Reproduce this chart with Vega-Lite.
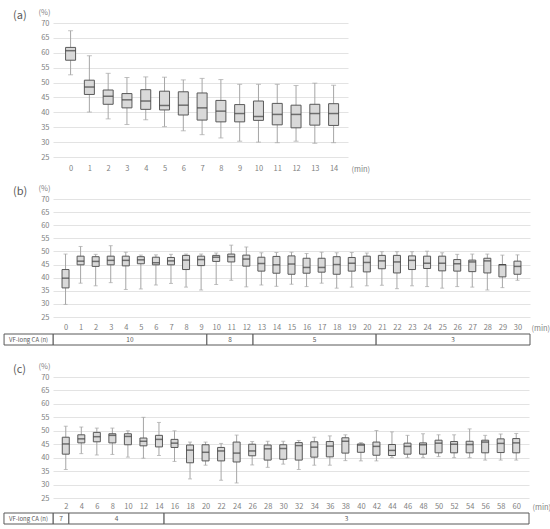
{
  "$schema": "https://vega.github.io/schema/vega-lite/v6.json",
  "padding": {"left": 3, "top": 8, "right": 3, "bottom": 3},
  "bounds": "flush",
  "spacing": 0,
  "config": {
    "font": "Noto Sans CJK JP",
    "view": {"stroke": null},
    "axisX": {"domain": false, "ticks": false, "tickSize": 0, "grid": false, "labelFontSize": 7.5, "labelColor": "#7f7f7f", "titleFontSize": 7.5, "titleFontWeight": "normal", "titleColor": "#7f7f7f", "titleAlign": "left", "titleBaseline": "middle", "labelFlush": false, "labelOverlap": false},
    "axisY": {"domain": false, "ticks": false, "tickSize": 0, "grid": true, "gridColor": "#e3e3e3", "gridWidth": 1, "labelFontSize": 7.5, "labelColor": "#7f7f7f", "labelPadding": 4, "labelOverlap": false, "tickCount": 20, "titleFontSize": 7.5, "titleFontWeight": "normal", "titleColor": "#7f7f7f", "titleAngle": 0, "titleX": -9, "titleY": -11, "titleAlign": "center", "titleBaseline": "middle"},
    "title": {"anchor": "start", "frame": "group", "dx": -40, "fontSize": 11, "fontWeight": "normal", "color": "#595959", "offset": -13}
  },
  "datasets": {
    "a": [
      {"t": 0, "lo": 52.6, "q1": 57.5, "med": 60.7, "q3": 61.8, "hi": 67.4},
      {"t": 1, "lo": 40.1, "q1": 46.0, "med": 48.5, "q3": 50.8, "hi": 59.0},
      {"t": 2, "lo": 37.8, "q1": 42.7, "med": 45.4, "q3": 47.5, "hi": 53.1},
      {"t": 3, "lo": 35.9, "q1": 41.5, "med": 44.2, "q3": 46.3, "hi": 51.7},
      {"t": 4, "lo": 37.5, "q1": 41.0, "med": 43.8, "q3": 47.6, "hi": 51.9},
      {"t": 5, "lo": 35.2, "q1": 40.8, "med": 42.3, "q3": 47.1, "hi": 51.8},
      {"t": 6, "lo": 33.8, "q1": 39.1, "med": 42.4, "q3": 46.9, "hi": 50.9},
      {"t": 7, "lo": 32.5, "q1": 37.4, "med": 41.5, "q3": 46.5, "hi": 51.4},
      {"t": 8, "lo": 31.4, "q1": 36.8, "med": 40.4, "q3": 44.0, "hi": 51.0},
      {"t": 9, "lo": 30.3, "q1": 36.8, "med": 39.6, "q3": 42.6, "hi": 49.4},
      {"t": 10, "lo": 30.0, "q1": 37.3, "med": 38.6, "q3": 43.8, "hi": 49.4},
      {"t": 11, "lo": 29.8, "q1": 35.8, "med": 39.3, "q3": 43.0, "hi": 49.4},
      {"t": 12, "lo": 30.3, "q1": 34.8, "med": 39.3, "q3": 42.4, "hi": 49.0},
      {"t": 13, "lo": 29.6, "q1": 35.7, "med": 39.6, "q3": 42.7, "hi": 49.8},
      {"t": 14, "lo": 29.8, "q1": 35.6, "med": 39.6, "q3": 42.9, "hi": 49.1}
    ],
    "b": [
      {"t": 0, "lo": 29.8, "q1": 36.1, "med": 39.8, "q3": 43.1, "hi": 49.0},
      {"t": 1, "lo": 37.9, "q1": 44.9, "med": 46.3, "q3": 48.2, "hi": 51.9},
      {"t": 2, "lo": 36.9, "q1": 44.3, "med": 46.2, "q3": 48.0, "hi": 48.9},
      {"t": 3, "lo": 38.1, "q1": 44.9, "med": 46.6, "q3": 48.2, "hi": 52.2},
      {"t": 4, "lo": 35.5, "q1": 44.5, "med": 46.6, "q3": 48.2, "hi": 49.7},
      {"t": 5, "lo": 35.7, "q1": 45.3, "med": 46.8, "q3": 48.0, "hi": 48.6},
      {"t": 6, "lo": 37.2, "q1": 44.9, "med": 45.7, "q3": 47.8, "hi": 48.7},
      {"t": 7, "lo": 37.8, "q1": 44.9, "med": 46.4, "q3": 47.7, "hi": 48.9},
      {"t": 8, "lo": 36.4, "q1": 43.1, "med": 46.7, "q3": 48.5, "hi": 49.0},
      {"t": 9, "lo": 35.3, "q1": 44.6, "med": 46.9, "q3": 48.2, "hi": 49.0},
      {"t": 10, "lo": 37.4, "q1": 46.2, "med": 47.8, "q3": 48.5, "hi": 49.4},
      {"t": 11, "lo": 39.0, "q1": 46.0, "med": 48.0, "q3": 49.0, "hi": 52.4},
      {"t": 12, "lo": 36.5, "q1": 44.4, "med": 47.1, "q3": 48.6, "hi": 51.7},
      {"t": 13, "lo": 37.2, "q1": 42.5, "med": 45.4, "q3": 47.8, "hi": 49.5},
      {"t": 14, "lo": 36.7, "q1": 41.7, "med": 44.9, "q3": 48.1, "hi": 49.6},
      {"t": 15, "lo": 37.5, "q1": 41.3, "med": 45.2, "q3": 48.3, "hi": 49.7},
      {"t": 16, "lo": 36.6, "q1": 41.7, "med": 43.9, "q3": 47.4, "hi": 49.2},
      {"t": 17, "lo": 37.9, "q1": 42.1, "med": 43.9, "q3": 47.4, "hi": 49.7},
      {"t": 18, "lo": 36.0, "q1": 41.3, "med": 45.0, "q3": 48.0, "hi": 49.5},
      {"t": 19, "lo": 36.4, "q1": 42.5, "med": 45.5, "q3": 47.7, "hi": 49.6},
      {"t": 20, "lo": 36.9, "q1": 42.2, "med": 45.8, "q3": 48.2, "hi": 49.4},
      {"t": 21, "lo": 37.1, "q1": 43.4, "med": 46.4, "q3": 48.5, "hi": 49.9},
      {"t": 22, "lo": 35.8, "q1": 41.8, "med": 46.0, "q3": 48.5, "hi": 49.9},
      {"t": 23, "lo": 36.9, "q1": 43.1, "med": 46.6, "q3": 48.3, "hi": 49.9},
      {"t": 24, "lo": 36.6, "q1": 43.5, "med": 45.5, "q3": 48.2, "hi": 50.1},
      {"t": 25, "lo": 36.0, "q1": 42.6, "med": 45.5, "q3": 48.2, "hi": 49.5},
      {"t": 26, "lo": 36.6, "q1": 42.5, "med": 45.3, "q3": 46.9, "hi": 48.9},
      {"t": 27, "lo": 36.4, "q1": 42.3, "med": 46.0, "q3": 46.7, "hi": 49.0},
      {"t": 28, "lo": 35.3, "q1": 41.8, "med": 46.4, "q3": 47.4, "hi": 49.0},
      {"t": 29, "lo": 36.2, "q1": 40.3, "med": 44.9, "q3": 45.0, "hi": 48.6},
      {"t": 30, "lo": 39.0, "q1": 41.3, "med": 44.3, "q3": 46.3, "hi": 48.7}
    ],
    "c": [
      {"t": 2, "lo": 35.6, "q1": 41.3, "med": 45.1, "q3": 47.6, "hi": 51.7},
      {"t": 4, "lo": 41.5, "q1": 45.5, "med": 47.0, "q3": 48.5, "hi": 51.4},
      {"t": 6, "lo": 41.0, "q1": 45.9, "med": 47.8, "q3": 49.4, "hi": 51.0},
      {"t": 8, "lo": 41.2, "q1": 45.5, "med": 48.3, "q3": 48.9, "hi": 51.0},
      {"t": 10, "lo": 40.2, "q1": 44.8, "med": 47.9, "q3": 48.9, "hi": 50.0},
      {"t": 12, "lo": 39.8, "q1": 44.4, "med": 46.1, "q3": 47.3, "hi": 55.0},
      {"t": 14, "lo": 40.8, "q1": 44.0, "med": 46.8, "q3": 48.3, "hi": 53.1},
      {"t": 16, "lo": 38.6, "q1": 43.8, "med": 45.4, "q3": 46.8, "hi": 50.0},
      {"t": 18, "lo": 32.1, "q1": 38.1, "med": 42.8, "q3": 44.7, "hi": 45.8},
      {"t": 20, "lo": 37.2, "q1": 38.8, "med": 42.0, "q3": 44.8, "hi": 45.8},
      {"t": 22, "lo": 31.6, "q1": 38.8, "med": 42.5, "q3": 43.8, "hi": 45.3},
      {"t": 24, "lo": 30.6, "q1": 38.4, "med": 41.7, "q3": 45.8, "hi": 48.4},
      {"t": 26, "lo": 37.3, "q1": 40.7, "med": 42.5, "q3": 45.0, "hi": 46.0},
      {"t": 28, "lo": 36.4, "q1": 39.1, "med": 43.3, "q3": 44.7, "hi": 46.1},
      {"t": 30, "lo": 37.6, "q1": 39.4, "med": 43.4, "q3": 44.8, "hi": 46.1},
      {"t": 32, "lo": 35.6, "q1": 39.1, "med": 44.5, "q3": 45.6, "hi": 46.4},
      {"t": 34, "lo": 37.2, "q1": 40.2, "med": 43.9, "q3": 45.9, "hi": 47.6},
      {"t": 36, "lo": 37.2, "q1": 40.3, "med": 44.3, "q3": 46.0, "hi": 48.1},
      {"t": 38, "lo": 38.9, "q1": 41.7, "med": 46.1, "q3": 47.4, "hi": 48.5},
      {"t": 40, "lo": 38.8, "q1": 42.0, "med": 44.7, "q3": 45.1, "hi": 45.6},
      {"t": 42, "lo": 38.8, "q1": 40.9, "med": 44.2, "q3": 45.8, "hi": 50.1},
      {"t": 44, "lo": 40.0, "q1": 40.8, "med": 42.7, "q3": 44.9, "hi": 49.6},
      {"t": 46, "lo": 40.0, "q1": 41.3, "med": 44.2, "q3": 45.4, "hi": 48.3},
      {"t": 48, "lo": 40.0, "q1": 41.3, "med": 44.8, "q3": 45.5, "hi": 48.9},
      {"t": 50, "lo": 40.4, "q1": 41.8, "med": 45.4, "q3": 46.5, "hi": 48.5},
      {"t": 52, "lo": 40.0, "q1": 41.8, "med": 45.0, "q3": 46.0, "hi": 48.5},
      {"t": 54, "lo": 40.0, "q1": 41.8, "med": 44.9, "q3": 46.1, "hi": 50.7},
      {"t": 56, "lo": 39.1, "q1": 41.8, "med": 45.8, "q3": 46.5, "hi": 48.3},
      {"t": 58, "lo": 39.1, "q1": 41.9, "med": 45.3, "q3": 47.0, "hi": 48.8},
      {"t": 60, "lo": 39.1, "q1": 41.8, "med": 45.5, "q3": 47.1, "hi": 49.0}
    ],
    "tb": [
      {"start": -0.5, "end": 9.5, "n": 10},
      {"start": 9.5, "end": 12.5, "n": 8},
      {"start": 12.5, "end": 20.5, "n": 5},
      {"start": 20.5, "end": 30.5, "n": 3}
    ],
    "tc": [
      {"start": 1, "end": 3, "n": 7},
      {"start": 3, "end": 15, "n": 4},
      {"start": 15, "end": 61, "n": 3}
    ]
  },
  "vconcat": [
    {
      "width": 295, "height": 134,
      "title": {"text": "(a)"},
      "data": {"name": "a"},
      "encoding": {
        "x": {"field": "t", "type": "quantitative", "scale": {"domain": [-0.67, 14.5], "nice": false, "zero": false},
          "axis": {"values": [0,1,2,3,4,5,6,7,8,9,10,11,12,13,14], "title": "(min)", "labelPadding": 7, "titleX": 298, "titleY": 12}}
      },
      "layer": [
        {"mark": {"type": "rule", "color": "#a6a6a6", "strokeWidth": 1}, "encoding": {"y": {"field": "lo", "type": "quantitative", "title": "(%)", "scale": {"domain": [25, 70], "nice": false, "zero": false}, "axis": {"values": [25, 30, 35, 40, 45, 50, 55, 60, 65, 70], "tickCount": 20}}, "y2": {"field": "hi"}}},
        {"mark": {"type": "tick", "orient": "horizontal", "size": 5, "thickness": 1, "color": "#a6a6a6"}, "encoding": {"y": {"field": "lo", "type": "quantitative", "title": "(%)"}}},
        {"mark": {"type": "tick", "orient": "horizontal", "size": 5, "thickness": 1, "color": "#a6a6a6"}, "encoding": {"y": {"field": "hi", "type": "quantitative", "title": "(%)"}}},
        {"mark": {"type": "bar", "size": 10, "fill": "#d9d9d9", "stroke": "#595959", "strokeWidth": 1}, "encoding": {"y": {"field": "q1", "type": "quantitative", "title": "(%)"}, "y2": {"field": "q3"}}},
        {"mark": {"type": "tick", "orient": "horizontal", "size": 10, "thickness": 1.5, "color": "#404040"}, "encoding": {"y": {"field": "med", "type": "quantitative", "title": "(%)"}}}
      ]
    },
    {"width": 10, "height": 42, "data": {"values": []}, "mark": "point"},
    {
      "width": 477, "height": 118,
      "title": {"text": "(b)"},
      "data": {"name": "b"},
      "encoding": {
        "x": {"field": "t", "type": "quantitative", "scale": {"domain": [-0.5, 30.5], "nice": false, "zero": false},
          "axis": {"values": [0,1,2,3,4,5,6,7,8,9,10,11,12,13,14,15,16,17,18,19,20,21,22,23,24,25,26,27,28,29,30], "title": "(min)", "labelPadding": 6, "titleX": 478, "titleY": 11}}
      },
      "layer": [
        {"mark": {"type": "rule", "color": "#a6a6a6", "strokeWidth": 1}, "encoding": {"y": {"field": "lo", "type": "quantitative", "title": "(%)", "scale": {"domain": [25, 70], "nice": false, "zero": false}, "axis": {"values": [25, 30, 35, 40, 45, 50, 55, 60, 65, 70], "tickCount": 20}}, "y2": {"field": "hi"}}},
        {"mark": {"type": "tick", "orient": "horizontal", "size": 4, "thickness": 1, "color": "#a6a6a6"}, "encoding": {"y": {"field": "lo", "type": "quantitative", "title": "(%)"}}},
        {"mark": {"type": "tick", "orient": "horizontal", "size": 4, "thickness": 1, "color": "#a6a6a6"}, "encoding": {"y": {"field": "hi", "type": "quantitative", "title": "(%)"}}},
        {"mark": {"type": "bar", "size": 7, "fill": "#d9d9d9", "stroke": "#595959", "strokeWidth": 1}, "encoding": {"y": {"field": "q1", "type": "quantitative", "title": "(%)"}, "y2": {"field": "q3"}}},
        {"mark": {"type": "tick", "orient": "horizontal", "size": 7, "thickness": 1.5, "color": "#404040"}, "encoding": {"y": {"field": "med", "type": "quantitative", "title": "(%)"}}}
      ]
    },
    {"width": 10, "height": 17, "data": {"values": []}, "mark": "point"},
    {
      "width": 477, "height": 11,
      "layer": [
        {
          "data": {"name": "tb"},
          "transform": [{"calculate": "(datum.start + datum.end) / 2", "as": "mid"}],
          "layer": [
            {"mark": {"type": "rect", "fill": "white", "stroke": "#595959", "strokeWidth": 1}, "encoding": {"x": {"field": "start", "type": "quantitative", "scale": {"domain": [-0.5, 30.5], "nice": false, "zero": false}, "axis": null}, "x2": {"field": "end"}}},
            {"mark": {"type": "text", "fontSize": 6.5, "color": "#595959"}, "encoding": {"x": {"field": "mid", "type": "quantitative", "scale": {"domain": [-0.5, 30.5], "nice": false, "zero": false}, "axis": null}, "text": {"field": "n", "type": "nominal"}}}
          ]
        },
        {
          "data": {"values": [{"label": "VF-long CA (n)"}]},
          "layer": [
            {"mark": {"type": "rect", "fill": "white", "stroke": "#595959", "strokeWidth": 1}, "encoding": {"x": {"datum": -3.68, "type": "quantitative", "scale": {"domain": [-0.5, 30.5], "nice": false, "zero": false}, "axis": null}, "x2": {"datum": -0.5}}},
            {"mark": {"type": "text", "fontSize": 6, "color": "#595959"}, "encoding": {"x": {"datum": -2.09, "type": "quantitative", "scale": {"domain": [-0.5, 30.5], "nice": false, "zero": false}, "axis": null}, "text": {"field": "label", "type": "nominal"}}}
          ]
        }
      ]
    },
    {"width": 10, "height": 32, "data": {"values": []}, "mark": "point"},
    {
      "width": 476, "height": 121,
      "title": {"text": "(c)"},
      "data": {"name": "c"},
      "encoding": {
        "x": {"field": "t", "type": "quantitative", "scale": {"domain": [1, 61], "nice": false, "zero": false},
          "axis": {"values": [2,4,6,8,10,12,14,16,18,20,22,24,26,28,30,32,34,36,38,40,42,44,46,48,50,52,54,56,58,60], "title": "(min)", "labelPadding": 4, "titleX": 479, "titleY": 9}}
      },
      "layer": [
        {"mark": {"type": "rule", "color": "#a6a6a6", "strokeWidth": 1}, "encoding": {"y": {"field": "lo", "type": "quantitative", "title": "(%)", "scale": {"domain": [25, 70], "nice": false, "zero": false}, "axis": {"values": [25, 30, 35, 40, 45, 50, 55, 60, 65, 70], "tickCount": 20}}, "y2": {"field": "hi"}}},
        {"mark": {"type": "tick", "orient": "horizontal", "size": 4, "thickness": 1, "color": "#a6a6a6"}, "encoding": {"y": {"field": "lo", "type": "quantitative", "title": "(%)"}}},
        {"mark": {"type": "tick", "orient": "horizontal", "size": 4, "thickness": 1, "color": "#a6a6a6"}, "encoding": {"y": {"field": "hi", "type": "quantitative", "title": "(%)"}}},
        {"mark": {"type": "bar", "size": 7, "fill": "#d9d9d9", "stroke": "#595959", "strokeWidth": 1}, "encoding": {"y": {"field": "q1", "type": "quantitative", "title": "(%)"}, "y2": {"field": "q3"}}},
        {"mark": {"type": "tick", "orient": "horizontal", "size": 7, "thickness": 1.5, "color": "#404040"}, "encoding": {"y": {"field": "med", "type": "quantitative", "title": "(%)"}}}
      ]
    },
    {"width": 10, "height": 15, "data": {"values": []}, "mark": "point"},
    {
      "width": 476, "height": 11,
      "layer": [
        {
          "data": {"name": "tc"},
          "transform": [{"calculate": "(datum.start + datum.end) / 2", "as": "mid"}],
          "layer": [
            {"mark": {"type": "rect", "fill": "white", "stroke": "#595959", "strokeWidth": 1}, "encoding": {"x": {"field": "start", "type": "quantitative", "scale": {"domain": [1, 61], "nice": false, "zero": false}, "axis": null}, "x2": {"field": "end"}}},
            {"mark": {"type": "text", "fontSize": 6.5, "color": "#595959"}, "encoding": {"x": {"field": "mid", "type": "quantitative", "scale": {"domain": [1, 61], "nice": false, "zero": false}, "axis": null}, "text": {"field": "n", "type": "nominal"}}}
          ]
        },
        {
          "data": {"values": [{"label": "VF-long CA (n)"}]},
          "layer": [
            {"mark": {"type": "rect", "fill": "white", "stroke": "#595959", "strokeWidth": 1}, "encoding": {"x": {"datum": -5.18, "type": "quantitative", "scale": {"domain": [1, 61], "nice": false, "zero": false}, "axis": null}, "x2": {"datum": 1}}},
            {"mark": {"type": "text", "fontSize": 6, "color": "#595959"}, "encoding": {"x": {"datum": -2.09, "type": "quantitative", "scale": {"domain": [1, 61], "nice": false, "zero": false}, "axis": null}, "text": {"field": "label", "type": "nominal"}}}
          ]
        }
      ]
    }
  ]
}
